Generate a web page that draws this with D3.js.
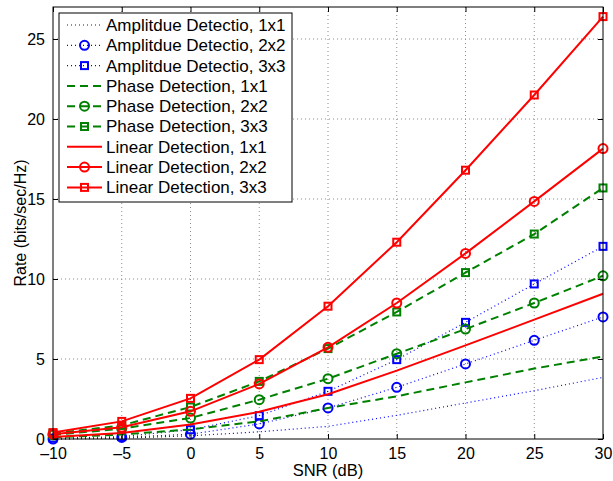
<!DOCTYPE html>
<html>
<head>
<meta charset="utf-8">
<script src="https://cdn.jsdelivr.net/npm/d3@7"></script>
<style>
  body { margin: 0; background: #fff; }
  svg { font-family: "Liberation Sans", Arial, sans-serif; }
</style>
</head>
<body>
<div id="chart"></div>
<script>
// values
const snrDb = [-10, -5, 0, 5, 10, 15, 20, 25, 30];
const ampDet1 = [0.0, 0.05, 0.2, 0.45, 0.79, 1.48, 2.25, 3.02, 3.85];
const ampDet2 = [0.0, 0.1, 0.3, 0.94, 1.94, 3.23, 4.69, 6.17, 7.63];
const ampDet3 = [0.05, 0.15, 0.58, 1.46, 2.98, 4.96, 7.29, 9.69, 12.04];
const phaseDet1 = [0.1, 0.28, 0.6, 1.1, 1.94, 2.67, 3.54, 4.4, 5.16];
const phaseDet2 = [0.25, 0.65, 1.31, 2.46, 3.77, 5.33, 6.87, 8.5, 10.2];
const phaseDet3 = [0.35, 0.85, 2.0, 3.6, 5.65, 7.94, 10.4, 12.81, 15.69];
const linDet1 = [0.12, 0.38, 0.9, 1.7, 2.8, 4.27, 5.85, 7.46, 9.08];
const linDet2 = [0.3, 0.73, 1.73, 3.44, 5.73, 8.5, 11.6, 14.85, 18.15];
const linDet3 = [0.4, 1.1, 2.54, 4.96, 8.3, 12.3, 16.8, 21.5, 26.4];

const xTicks = [-10, -5, 0, 5, 10, 15, 20, 25, 30];
const yTicks = [0, 5, 10, 15, 20, 25];

const seriesList = [
  { name: "Amplitdue Detectio, 1x1", values: ampDet1, color: "#0000ff", kind: "dot", marker: null },
  { name: "Amplitdue Detectio, 2x2", values: ampDet2, color: "#0000ff", kind: "dot", marker: "circle" },
  { name: "Amplitdue Detectio, 3x3", values: ampDet3, color: "#0000ff", kind: "dot", marker: "square" },
  { name: "Phase Detection, 1x1", values: phaseDet1, color: "#008000", kind: "dash", marker: null },
  { name: "Phase Detection, 2x2", values: phaseDet2, color: "#008000", kind: "dash", marker: "circle" },
  { name: "Phase Detection, 3x3", values: phaseDet3, color: "#008000", kind: "dash", marker: "square" },
  { name: "Linear Detection, 1x1", values: linDet1, color: "#ff0000", kind: "solid", marker: null },
  { name: "Linear Detection, 2x2", values: linDet2, color: "#ff0000", kind: "solid", marker: "circle" },
  { name: "Linear Detection, 3x3", values: linDet3, color: "#ff0000", kind: "solid", marker: "square" }
];

const width = 613, height = 481;
const margin = { top: 7, right: 10, bottom: 42, left: 53 };
const plotW = width - margin.left - margin.right;
const plotH = height - margin.top - margin.bottom;
const fontSize = 16;

const svg = d3.select("#chart").append("svg")
  .attr("width", width)
  .attr("height", height);

const x = d3.scaleLinear().domain([-10, 30]).range([0, plotW]);
const y = d3.scaleLinear().domain([0, 27]).range([plotH, 0]);

const g = svg.append("g").attr("transform", "translate(" + margin.left + "," + margin.top + ")");

// grid
g.append("g").selectAll("line").data(xTicks.slice(1, -1)).enter().append("line")
  .attr("x1", d => x(d)).attr("x2", d => x(d))
  .attr("y1", 0).attr("y2", plotH)
  .attr("stroke", "#8c8c8c").attr("stroke-width", 1).attr("stroke-dasharray", "1,3");
g.append("g").selectAll("line").data(yTicks.slice(1)).enter().append("line")
  .attr("y1", d => y(d)).attr("y2", d => y(d))
  .attr("x1", 0).attr("x2", plotW)
  .attr("stroke", "#8c8c8c").attr("stroke-width", 1).attr("stroke-dasharray", "1,3");

function dashFor(kind) {
  if (kind === "dot") return "1,3";
  if (kind === "dash") return "8,5";
  return null;
}
function widthFor(kind) {
  return kind === "dot" ? 1.2 : 2;
}

const line = d3.line().x((d, i) => x(snrDb[i])).y(d => y(d));

function drawMarker(sel, marker, color, cx, cy) {
  if (marker === "circle") {
    sel.append("circle").attr("cx", cx).attr("cy", cy).attr("r", 4.5)
      .attr("fill", "none").attr("stroke", color).attr("stroke-width", 2);
  } else if (marker === "square") {
    sel.append("rect").attr("x", cx - 3.5).attr("y", cy - 3.5)
      .attr("width", 7).attr("height", 7)
      .attr("fill", "none").attr("stroke", color).attr("stroke-width", 2);
  }
}

const lines = g.append("g");
seriesList.forEach(s => {
  lines.append("path")
    .datum(s.values)
    .attr("d", line)
    .attr("fill", "none")
    .attr("stroke", s.color)
    .attr("stroke-width", widthFor(s.kind))
    .attr("stroke-dasharray", dashFor(s.kind));
  if (s.marker) {
    s.values.forEach((v, i) => drawMarker(lines, s.marker, s.color, x(snrDb[i]), y(v)));
  }
});

// axes box with inner ticks on all sides
const xAxis = d3.axisBottom(x).tickValues(xTicks).tickSizeInner(-5).tickSizeOuter(0).tickPadding(9)
  .tickFormat(d => d < 0 ? "\u2013" + Math.abs(d) : d);
const yAxis = d3.axisLeft(y).tickValues(yTicks).tickSizeInner(-5).tickSizeOuter(0).tickPadding(8);

const gx = g.append("g").attr("transform", "translate(0," + plotH + ")").call(xAxis);
const gy = g.append("g").call(yAxis);
g.append("g").call(d3.axisTop(x).tickValues(xTicks).tickSizeInner(-5).tickSizeOuter(0).tickFormat(""));
g.append("g").attr("transform", "translate(" + plotW + ",0)")
  .call(d3.axisRight(y).tickValues(yTicks).tickSizeInner(-5).tickSizeOuter(0).tickFormat(""));

g.selectAll(".domain").remove();
g.selectAll(".tick line").attr("stroke", "#000");
[gx, gy].forEach(a => a.selectAll("text").attr("font-size", fontSize).attr("fill", "#000")
  .attr("font-family", "Liberation Sans, Arial, sans-serif"));

g.append("rect").attr("x", 0).attr("y", 0).attr("width", plotW).attr("height", plotH)
  .attr("fill", "none").attr("stroke", "#000").attr("stroke-width", 1);

// axis labels
svg.append("text")
  .attr("x", margin.left + plotW / 2).attr("y", 476)
  .attr("text-anchor", "middle").attr("font-size", 16.5).text("SNR (dB)");
svg.append("text")
  .attr("transform", "translate(26," + (margin.top + plotH / 2) + ") rotate(-90)")
  .attr("text-anchor", "middle").attr("font-size", fontSize).text("Rate (bits/sec/Hz)");

// legend
const legend = svg.append("g").attr("transform", "translate(59,13)");
legend.append("rect").attr("x", 0).attr("y", 0).attr("width", 233).attr("height", 189)
  .attr("fill", "#fff").attr("stroke", "#000").attr("stroke-width", 1);
seriesList.forEach((s, i) => {
  const cy = 12 + i * 20.3;
  const row = legend.append("g");
  row.append("line").attr("x1", 8).attr("x2", 43).attr("y1", cy).attr("y2", cy)
    .attr("stroke", s.color)
    .attr("stroke-width", widthFor(s.kind))
    .attr("stroke-dasharray", dashFor(s.kind));
  if (s.marker) drawMarker(row, s.marker, s.color, 25.5, cy);
  row.append("text").attr("x", 47).attr("y", cy).attr("dy", "0.35em")
    .attr("font-size", 17).text(s.name);
});
</script>
</body>
</html>
